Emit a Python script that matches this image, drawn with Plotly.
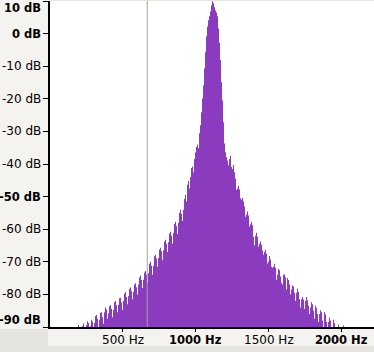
import plotly.graph_objects as go

# ---- data -------------------------------------------------------------
bin_start_hz = 183.5      # centre frequency of first spectrum bin
bin_width_hz = 6.85       # spacing of spectrum bins
levels_db = [
    -92, -91, -89.4, -90.5, -93, -91, -89.8, -88.9, -90.2, -92.5,
    -89.5, -88.2, -88.8, -91.5, -89.8, -87.8, -88.3, -90.5, -88.8, -86.6,
    -86.3, -87.5, -90, -87.8, -85.6, -85.5, -87.0, -89.0, -85.5, -84.0,
    -84.6, -87.5, -85.8, -83.6, -83.3, -84.5, -87.0, -84.8, -82.4, -82.0,
    -83.3, -85.5, -83.2, -81.2, -81.0, -82.5, -84.8, -82.0, -79.7, -79.3,
    -80.8, -83.0, -80.5, -78.3, -77.9, -79.0, -81.5, -79.2, -77.0, -76.6,
    -77.8, -80.0, -77.0, -74.8, -74.2, -75.6, -78.0, -75.5, -73.3, -72.8,
    -74.0, -76.5, -73.5, -70.6, -70.0, -71.2, -74.0, -71.2, -68.3, -67.8,
    -69.0, -71.5, -68.8, -66.2, -65.7, -66.8, -69.5, -66.5, -63.8, -63.2,
    -64.5, -67.0, -64.0, -61.3, -60.8, -62.0, -64.5, -61.2, -58.4, -57.7,
    -59.0, -61.5, -58.0, -55.0, -54.0, -55.3, -57.5, -54.0, -50.7, -49.5,
    -51.5, -46.4, -45.2, -47.5, -44.0, -41.2, -40.8, -42.5, -38.5, -36.5,
    -34.8, -34.0, -35.2, -30.6, -28.1, -24.1, -19.9, -15.9, -10.6, -5.7,
    -0.8, 2.2, 4.1, 5.3, 6.8, 8.7, 9.9, 9.3, 8.1, 7.1,
    6.5, 5.3, 1.6, -2.9, -8.1, -14.9, -20.5, -27.2, -33.7, -36.4,
    -37.9, -38.9, -40.4, -38.5, -37.5, -40.9, -41.5, -40.3, -42.5, -44.5,
    -48.0, -47.5, -46.7, -47.8, -50.5, -51.0, -50.4, -51.5, -53.0, -56.2,
    -55.5, -54.6, -55.8, -59.2, -58.5, -57.7, -58.8, -62.3, -65.0, -62.0,
    -61.1, -62.3, -65.4, -64.5, -63.8, -64.8, -66.5, -67.8, -67.0, -66.3,
    -67.5, -70.5, -69.9, -68.2, -69.3, -71.5, -71.8, -71.5, -70.6, -71.8,
    -75.5, -73.9, -72.1, -72.6, -74.5, -76.5, -77.0, -74.0, -73.9, -74.8,
    -78.5, -75.0, -75.6, -77.0, -80.0, -78.5, -77.3, -77.6, -79.5, -82.0,
    -79.5, -78.2, -79.3, -81.5, -84.0, -81.5, -80.8, -81.6, -84.5, -82.0,
    -80.8, -81.8, -83.5, -86.0, -84.0, -82.4, -83.0, -85.0, -87.5, -83.4,
    -84.2, -86.0, -88.5, -86.0, -84.9, -85.5, -88.0, -90.5, -85.4, -86.2,
    -88.5, -91.0, -88.5, -87.1, -88.0, -90.5, -92.0, -87.8, -88.8, -91.0,
    -93.0, -91.5, -89.2, -90.2, -92.5, -94.0, -91.5, -89.5, -90.5, -93.0, -94.0,
]
cursor_hz = 668

x_tick_hz = [500, 1000, 1500, 2000]
x_tick_labels = ["500 Hz", "1000 Hz", "1500 Hz", "2000 Hz"]
x_tick_bold = [False, True, False, True]

y_tick_db = [10, 0, -10, -20, -30, -40, -50, -60, -70, -80, -90]
y_tick_labels = ["10 dB", "0 dB", "-10 dB", "-20 dB", "-30 dB", "-40 dB",
                 "-50 dB", "-60 dB", "-70 dB", "-80 dB", "-90 dB"]
y_tick_bold = [True, True, False, False, False, False, True, False, False, False, True]

# ---- style --------------------------------------------------------------
PURPLE = "#8a3bbe"
LIGHT = "#f4f3ef"
DARK = "#e6e4df"
FONT = "DejaVu Sans"
X_RANGE = [2, 2221]
Y_RANGE = [-90, 10]
W, H = 374, 352
L, R, T, B = 50, 0, 1, 25
PW, PH = W - L - R, H - T - B


def label_font(bold):
    return dict(family=FONT, size=11.5 if bold else 12, color="black")


edges = [bin_start_hz - bin_width_hz / 2 + i * bin_width_hz for i in range(len(levels_db) + 1)]
step_y = levels_db + [levels_db[-1]]

fig = go.Figure()
fig.add_trace(go.Scatter(x=[edges[0], edges[-1]], y=[-130, -130], mode="lines",
                         line=dict(width=0), hoverinfo="skip", showlegend=False))
fig.add_trace(go.Scatter(x=edges, y=step_y, mode="lines",
                         line=dict(width=0, shape="hv", color=PURPLE),
                         fill="tonexty", fillcolor=PURPLE,
                         hoverinfo="skip", showlegend=False))

shapes = [
    # light label panels
    dict(type="rect", xref="paper", yref="paper", layer="below", line=dict(width=0),
         fillcolor=LIGHT, x0=-L / PW, x1=0, y0=1 - (329 - T) / PH, y1=1 + T / PH),
    dict(type="rect", xref="paper", yref="paper", layer="below", line=dict(width=0),
         fillcolor=LIGHT, x0=-2 / PW, x1=1, y0=1 - (346 - T) / PH, y1=1 - (329 - T) / PH),
    # cursor line
    dict(type="line", xref="x", yref="paper", x0=cursor_hz, x1=cursor_hz, y0=0, y1=1,
         line=dict(color="#a3a3a3", width=1), layer="above"),
]

annotations = []
n = len(y_tick_db)
for i, (v, lab, b) in enumerate(zip(y_tick_db, y_tick_labels, y_tick_bold)):
    shift = 0
    if i == 0:
        shift = -6.5
    elif i == n - 1:
        shift = 7.5
    annotations.append(dict(xref="paper", yref="y", x=0, y=v, xanchor="right", yanchor="middle",
                            xshift=-7.5, yshift=shift, showarrow=False,
                            text=f"<b>{lab}</b>" if b else lab,
                            font=label_font(b)))
for v, lab, b in zip(x_tick_hz, x_tick_labels, x_tick_bold):
    annotations.append(dict(xref="x", yref="paper", x=v, y=0, xanchor="center", yanchor="middle",
                            yshift=-13, showarrow=False,
                            text=f"<b>{lab}</b>" if b else lab,
                            font=label_font(b)))

fig.update_layout(
    width=W, height=H, margin=dict(l=L, r=R, t=T, b=B, pad=0),
    paper_bgcolor=DARK, plot_bgcolor="white",
    showlegend=False, shapes=shapes, annotations=annotations,
    xaxis=dict(range=X_RANGE, showgrid=False, zeroline=False, showline=True,
               linecolor="black", linewidth=2, ticks="outside", ticklen=3,
               tickcolor="black", tickwidth=1, tickvals=x_tick_hz, showticklabels=False,
               fixedrange=True),
    yaxis=dict(range=Y_RANGE, showgrid=False, zeroline=False, showline=True,
               linecolor="black", linewidth=2, ticks="outside", ticklen=5,
               tickcolor="black", tickwidth=1, tickvals=y_tick_db, showticklabels=False,
               fixedrange=True),
)

fig.write_html("out.html", config={"displayModeBar": False})
